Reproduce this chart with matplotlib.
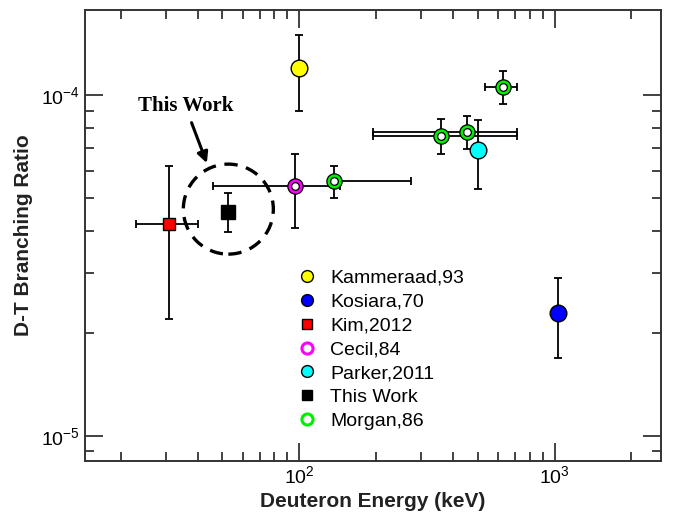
"""D-T branching ratio vs deuteron energy, compiled measurements plus this work."""

import matplotlib
matplotlib.use("Agg")
import matplotlib.pyplot as plt
import numpy as np
from matplotlib.lines import Line2D
from matplotlib.patches import Ellipse

plt.rcParams["font.family"] = ["Liberation Sans", "DejaVu Sans"]
plt.rcParams["mathtext.fontset"] = "custom"
plt.rcParams["mathtext.rm"] = "Liberation Sans"
plt.rcParams["mathtext.it"] = "Liberation Sans:italic"
plt.rcParams["mathtext.bf"] = "Liberation Sans:bold"

# ---- data (energy in keV, branching ratio) ----
kam_e = [100.0]
kam_r = [1.20e-4]
kam_lo = [9.0e-5]
kam_hi = [1.50e-4]

kos_e = [1030.0]
kos_r = [2.30e-5]
kos_lo = [1.69e-5]
kos_hi = [2.90e-5]

kim_e = [31.0]
kim_r = [4.2e-5]
kim_lo = [2.2e-5]
kim_hi = [6.2e-5]
kim_elo = [23.0]
kim_ehi = [40.0]

cecil_e = [96.0]
cecil_r = [5.4e-5]
cecil_lo = [4.08e-5]
cecil_hi = [6.7e-5]
cecil_elo = [46.0]
cecil_ehi = [145.0]

parker_e = [500.0]
parker_r = [6.9e-5]
parker_lo = [5.3e-5]
parker_hi = [8.45e-5]

tw_e = [52.5]
tw_r = [4.55e-5]
tw_lo = [3.97e-5]
tw_hi = [5.15e-5]

morgan_e = [137.0, 358.0, 455.0, 626.0]
morgan_r = [5.6e-5, 7.6e-5, 7.8e-5, 1.06e-4]
morgan_lo = [5.0e-5, 6.7e-5, 6.95e-5, 9.4e-5]
morgan_hi = [6.2e-5, 8.5e-5, 8.7e-5, 1.18e-4]
morgan_elo = [137.0, 195.0, 195.0, 535.0]
morgan_ehi = [275.0, 716.0, 716.0, 716.0]


def err(c, lo, hi):
    c = np.asarray(c)
    return np.vstack([c - np.asarray(lo), np.asarray(hi) - c])


fig = plt.figure(figsize=(6.79, 5.25), dpi=100)
ax = fig.add_axes([0.1252, 0.1225, 0.974 - 0.1252, 0.981 - 0.1225])
ax.set_xscale("log")
ax.set_yscale("log")
ax.set_xlim(14.5, 2620)
ax.set_ylim(8.45e-6, 1.78e-4)

eb = dict(fmt="none", ecolor="black", elinewidth=1.3, capsize=3, capthick=1.3, zorder=2)

ax.errorbar(kam_e, kam_r, yerr=err(kam_r, kam_lo, kam_hi), **eb)
ax.errorbar(kos_e, kos_r, yerr=err(kos_r, kos_lo, kos_hi), **eb)
ax.errorbar(kim_e, kim_r, yerr=err(kim_r, kim_lo, kim_hi),
            xerr=err(kim_e, kim_elo, kim_ehi), **eb)
ax.errorbar(cecil_e, cecil_r, yerr=err(cecil_r, cecil_lo, cecil_hi),
            xerr=err(cecil_e, cecil_elo, cecil_ehi), **eb)
ax.errorbar(parker_e, parker_r, yerr=err(parker_r, parker_lo, parker_hi), **eb)
ax.errorbar(tw_e, tw_r, yerr=err(tw_r, tw_lo, tw_hi), **eb)
ax.errorbar(morgan_e, morgan_r, yerr=err(morgan_r, morgan_lo, morgan_hi),
            xerr=err(morgan_e, morgan_elo, morgan_ehi), **eb)

# filled markers
ax.plot(kam_e, kam_r, "o", ms=12, mfc="#ffff00", mec="black", mew=1.0, zorder=4)
ax.plot(kos_e, kos_r, "o", ms=12, mfc="#0000ff", mec="black", mew=1.0, zorder=4)
ax.plot(parker_e, parker_r, "o", ms=12, mfc="#00ffff", mec="black", mew=1.0, zorder=4)
ax.plot(kim_e, kim_r, "s", ms=9, mfc="#ff0000", mec="black", mew=1.0, zorder=4)
ax.plot(tw_e, tw_r, "s", ms=9.5, mfc="black", mec="black", mew=1.0, zorder=4)

# open rings: coloured ring with thin black outlines, white centre
for e, r, c in [(cecil_e, cecil_r, "#ff00ff"), (morgan_e, morgan_r, "#00ee00")]:
    ax.plot(e, r, "o", ms=11, mfc=c, mec="black", mew=0.9, zorder=4, ls="none")
    ax.plot(e, r, "o", ms=5.5, mfc="white", mec="black", mew=0.9, zorder=5, ls="none")

# dashed ring around this work
fig.canvas.draw()
cx, cy = ax.transAxes.inverted().transform(ax.transData.transform((52.8, 4.63e-5)))
ring = Ellipse((cx, cy), 90 / 576.3, 90 / 450.7, transform=ax.transAxes,
               fill=False, ec="black", lw=2.4, ls=(0, (4, 2.6)), zorder=3)
ax.add_patch(ring)

ax.annotate("This Work", xy=(43.5, 6.32e-5), xytext=(35.8, 9.3e-5),
            ha="center", va="center", fontsize=15, fontweight="bold",
            family="Liberation Serif",
            arrowprops=dict(arrowstyle="-|>", color="black", lw=2.2,
                            mutation_scale=16, shrinkA=3, shrinkB=0))

handles = [
    Line2D([], [], ls="none", marker="o", ms=8.5, mfc="#ffff00", mec="black", mew=1.0,
           label="Kammeraad,93"),
    Line2D([], [], ls="none", marker="o", ms=8.5, mfc="#0000ff", mec="black", mew=1.0,
           label="Kosiara,70"),
    Line2D([], [], ls="none", marker="s", ms=6.5, mfc="#ff0000", mec="black", mew=1.0,
           label="Kim,2012"),
    Line2D([], [], ls="none", marker="o", ms=8, mfc="white", mec="#ff00ff", mew=2.2,
           label="Cecil,84"),
    Line2D([], [], ls="none", marker="o", ms=8.5, mfc="#00ffff", mec="black", mew=1.0,
           label="Parker,2011"),
    Line2D([], [], ls="none", marker="s", ms=6.5, mfc="black", mec="black", mew=1.0,
           label="This Work"),
    Line2D([], [], ls="none", marker="o", ms=8, mfc="white", mec="#00ee00", mew=2.2,
           label="Morgan,86"),
]
ax.legend(handles=handles, loc="upper left", bbox_to_anchor=(0.355, 0.442),
          frameon=False, fontsize=14, handlelength=1.0, handletextpad=0.7,
          labelspacing=0.32, borderaxespad=0)

ax.tick_params(which="both", direction="in", top=True, right=True, colors="#333333",
               labelcolor="black", labelsize=14)
ax.tick_params(which="major", length=13, width=1.3)
ax.tick_params(which="minor", length=6.5, width=1.3)
for s in ax.spines.values():
    s.set_linewidth(1.4)
    s.set_color("#333333")

ax.set_xlabel("Deuteron Energy (keV)", fontsize=15, fontweight="bold", color="#222222",
              labelpad=3)
ax.set_ylabel("D-T Branching Ratio", fontsize=15, fontweight="bold", color="#222222",
              labelpad=6)

fig.savefig("out.png", dpi=100)
